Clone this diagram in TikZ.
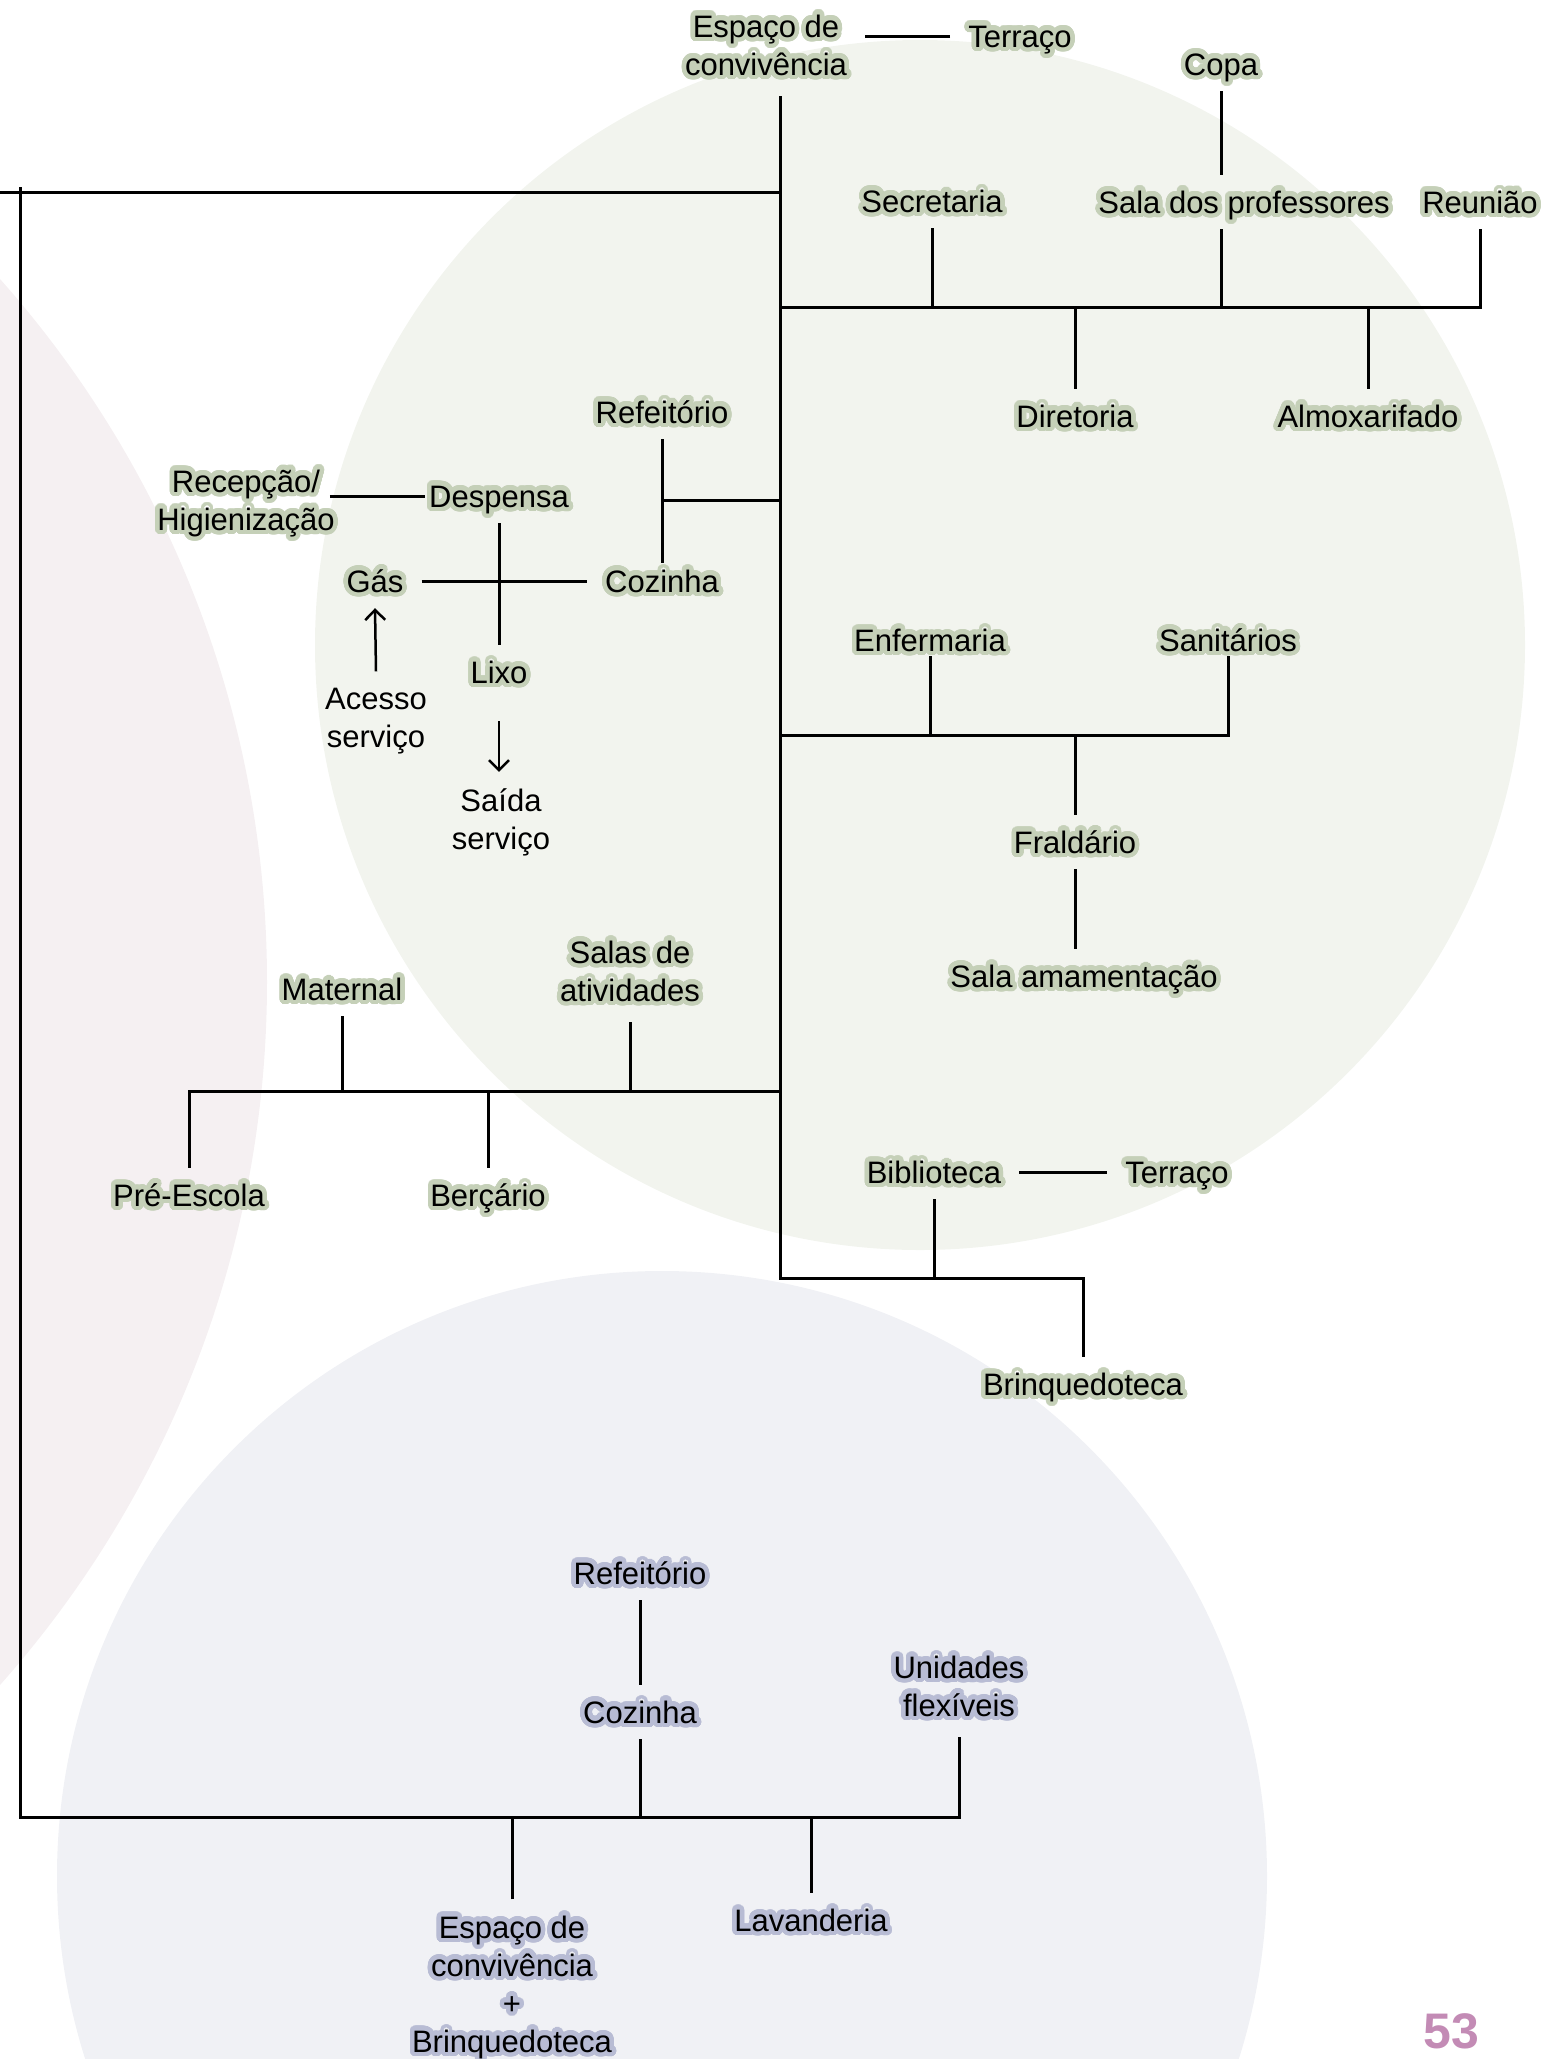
\documentclass[tikz,border=0pt]{standalone}
\usepackage{fontspec}
\setmainfont{Liberation Sans}
\usepackage[copies]{contour}
\contournumber{40}
\contourlength{4.5pt}
\usetikzlibrary{arrows.meta}

\definecolor{circpink}{HTML}{F5F0F2}
\definecolor{circgreen}{HTML}{F2F4EE}
\definecolor{circlav}{HTML}{F0F1F5}
\definecolor{halogreen}{HTML}{C5D0B8}
\definecolor{halolav}{HTML}{B8BCD4}
\definecolor{pagenum}{HTML}{C38BB5}

% halo around room names
\newcommand\gh[1]{\contour{halogreen}{#1}}
\newcommand\lh[1]{\contour{halolav}{#1}}

\begin{document}
\begin{tikzpicture}[x=1pt,y=-1pt,
  % multi-line labels are placed by the baseline of their last line
  lab/.style={font=\fontsize{31}{38}\selectfont, anchor=base, inner xsep=18pt,
              inner ysep=16pt, align=center},
  one/.style={lab, text height=22pt, text depth=0pt},
  wire/.style={line width=3pt},
  arr/.style={line width=2.5pt, -{Straight Barb[length=10pt,width=20pt]}}]

\useasboundingbox (0,0) rectangle (1544,2059);

% background discs
\begin{scope}
  \clip (0,0) rectangle (1544,2059);
  \fill[circpink]  (-792,982) circle[radius=1059];
  \fill[circgreen] (920,645)  circle[radius=605];
  \fill[circlav]   (662,1876) circle[radius=605];
\end{scope}

% ---------- nodes ----------
\node[lab] (esp)  at (766,75)  {\gh{Espaço de}\\\gh{convivência}};
\node[one] (ter1) at (1020,47) {\gh{Terraço}};
\node[one] (copa) at (1221,75) {\gh{Copa}};
\node[one] (sec)  at (932,212) {\gh{Secretaria}};
\node[one] (sala) at (1244,213) {\gh{Sala dos professores}};
\node[one] (reu)  at (1480,213) {\gh{Reunião}};
\node[one] (dir)  at (1075,427) {\gh{Diretoria}};
\node[one] (alm)  at (1368,427) {\gh{Almoxarifado}};

\node[one] (ref)  at (662,423) {\gh{Refeitório}};
\node[lab, inner xsep=0pt] (rec) at (246,530) {\gh{Recepção/}\\\gh{Higienização}};
\node[one, inner xsep=4pt] (desp) at (499,507) {\gh{Despensa}};
\node[one] (gas)  at (375,592) {\gh{Gás}};
\node[one] (coz)  at (662,592) {\gh{Cozinha}};
\node[one] (lixo) at (499,683) {\gh{Lixo}};
\node[lab] (aces) at (376,747) {Acesso\\serviço};
\node[lab] (said) at (501,849) {Saída\\serviço};

\node[one, inner ysep=5pt] (enf) at (930,651)  {\gh{Enfermaria}};
\node[one, inner ysep=5pt] (san) at (1228,651) {\gh{Sanitários}};
\node[one] (fral) at (1075,853) {\gh{Fraldário}};
\node[one] (sam)  at (1084,987) {\gh{Sala amamentação}};

\node[one] (mat)  at (342,1000) {\gh{Maternal}};
\node[lab] (sal)  at (630,1001) {\gh{Salas de}\\\gh{atividades}};
\node[one] (pre)  at (189,1206) {\gh{Pré-Escola}};
\node[one] (berc) at (488,1206) {\gh{Berçário}};

\node[one] (bib)  at (934,1183)  {\gh{Biblioteca}};
\node[one] (ter2) at (1177,1183) {\gh{Terraço}};
\node[one] (brq)  at (1083,1395) {\gh{Brinquedoteca}};

\node[one] (ref2) at (640,1584) {\lh{Refeitório}};
\node[one] (coz2) at (640,1723) {\lh{Cozinha}};
\node[lab] (uni)  at (959,1716) {\lh{Unidades}\\\lh{flexíveis}};
\node[one] (lav)  at (811,1931) {\lh{Lavanderia}};
\node[lab] (espb) at (512,2052) {\lh{Espaço de}\\\lh{convivência}\\\lh{+}\\\lh{Brinquedoteca}};

\node[anchor=base, inner sep=0pt, font=\fontsize{50}{60}\selectfont\bfseries,
      text=pagenum] (pg) at (1451,2048) {53};

% ---------- junction points ----------
\coordinate (trk) at (780,1278);
\coordinate (t0)  at (780,192);
\coordinate (b1)  at (780,307);
\coordinate (b2)  at (780,500);
\coordinate (b3)  at (780,735);
\coordinate (b4)  at (780,1091);
\coordinate (l0)  at (0,192);
\coordinate (lt)  at (20.5,187);
\coordinate (lb)  at (20.5,1817);

% ---------- connectors ----------
% trunk and library branch
\draw[wire] (esp.south -| trk) -- (trk) -| (brq.north);
\draw[wire] (bib.south) -- (bib.south |- trk);
\draw[wire] (bib.east) -- (ter2.west);
\draw[wire] (ter1.west) -- (ter1.west -| esp.east);

% link to the lower block
\draw[wire] (l0) -- (t0);
\draw[wire] (lt) -- (lb) -| (uni.south);

% administration
\draw[wire] (b1) -| (reu.south);
\draw[wire] (sec.south) -- (sec.south |- b1);
\draw[wire] (copa.south) -- (copa.south |- sala.north);
\draw[wire] (sala.south -| copa.south) -- (copa.south |- b1);
\draw[wire] (dir.north) -- (dir.north |- b1);
\draw[wire] (alm.north) -- (alm.north |- b1);

% kitchen
\draw[wire, shorten >=-9pt] (ref.south) -- (coz.north);
\draw[wire] (ref.south |- b2) -- (b2);
\draw[wire, shorten <=-5pt] (rec.east |- desp.west) -- (desp.west);
\draw[wire] (gas.east) -- (coz.west);
\draw[wire] (desp.south) -- (lixo.north);
\draw[arr] (aces.north) -- (gas.south);
\draw[arr, shorten <=22pt] (lixo.south) -- (lixo.south |- said.north);

% health
\draw[wire] (b3) -| (san.south);
\draw[wire] (enf.south) -- (enf.south |- b3);
\draw[wire] (fral.north) -- (fral.north |- b3);
\draw[wire] (fral.south) -- (fral.south |- sam.north);

% classrooms
\draw[wire] (b4) -| (pre.north);
\draw[wire] (mat.south) -- (mat.south |- b4);
\draw[wire] (sal.south) -- (sal.south |- b4);
\draw[wire] (berc.north) -- (berc.north |- b4);

% lower block
\draw[wire] (ref2.south) -- (coz2.north);
\draw[wire] (coz2.south) -- (coz2.south |- lb);
\draw[wire] (espb.north) -- (espb.north |- lb);
\draw[wire] (lav.north) -- (lav.north |- lb);

\end{tikzpicture}
\end{document}
